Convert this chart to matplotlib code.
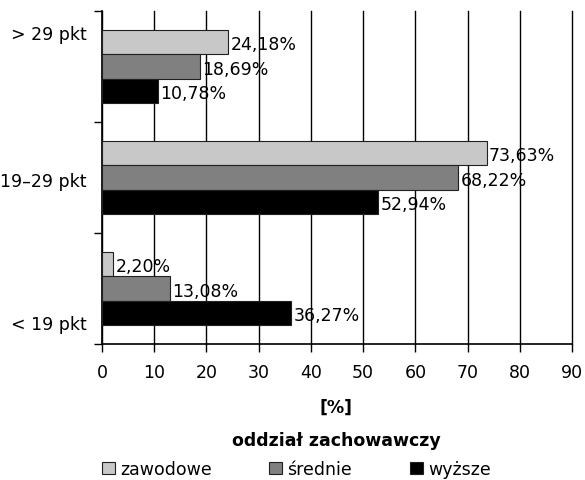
import matplotlib
matplotlib.use('Agg')
import matplotlib.pyplot as plt
from matplotlib.patches import Patch
import numpy as np

categories = ['< 19 pkt', '19–29 pkt', '> 29 pkt']
series_names = ['zawodowe', 'średnie', 'wyższe']
zawodowe = [2.20, 73.63, 24.18]
srednie = [13.08, 68.22, 18.69]
wyzsze = [36.27, 52.94, 10.78]
colors = ['#c8c8c8', '#808080', '#000000']

plt.rcParams['font.family'] = ['DejaVu Sans']
plt.rcParams['font.size'] = 12.5

fig = plt.figure(figsize=(5.85, 4.81), dpi=100)
ax = fig.add_axes([102/585, 1 - 345/481, 470/585, 333/481])

pos = np.arange(len(categories))
h = 0.22
series = [zawodowe, srednie, wyzsze]
for i, vals in enumerate(series):
    y = pos + h - i * h
    ax.barh(y, vals, height=h, color=colors[i], edgecolor='#202020', linewidth=0.8, zorder=3)
    for yy, v in zip(y, vals):
        ax.text(v + 0.4, yy - 0.02, ('%.2f%%' % v).replace('.', ','),
                va='center', ha='left', zorder=4)

ax.set_xlim(0, 90)
ax.set_ylim(-0.5, 2.5)
ax.set_xticks(np.arange(0, 91, 10))
ax.xaxis.grid(True, color='black', linewidth=1.0, zorder=0)
for gl in ax.get_xgridlines():
    gl.set_clip_on(False)
ax.set_axisbelow(True)

# category boundary ticks, labels placed separately
ax.set_yticks([-0.5, 0.5, 1.5, 2.5])
ax.set_yticklabels([])
label_pos = [-0.32, 0.97, 2.29]
for lp, c in zip(label_pos, categories):
    ax.text(-0.033, lp, c, transform=ax.get_yaxis_transform(), ha='right', va='center')

ax.tick_params(axis='both', length=6, width=1, color='black', direction='out')
ax.tick_params(axis='x', pad=8)
for s in ['top', 'right']:
    ax.spines[s].set_visible(False)
for s in ['left', 'bottom']:
    ax.spines[s].set_linewidth(1.2)

fig.text(336/585, 1 - 408/481, '[%]', ha='center', va='center', fontweight='bold')
fig.text(336/585, 1 - 441/481, 'oddział zachowawczy', ha='center', va='center', fontweight='bold')

handles = [Patch(facecolor=c, edgecolor='#202020', linewidth=0.8) for c in colors]
fig.legend(handles, series_names, loc='center left', ncol=3, frameon=False,
           bbox_to_anchor=(102/585, 1 - 470/481), borderaxespad=0, borderpad=0,
           handlelength=0.75, handleheight=0.75,
           handletextpad=0.3, columnspacing=3.3)

fig.savefig('out.png', dpi=100)
